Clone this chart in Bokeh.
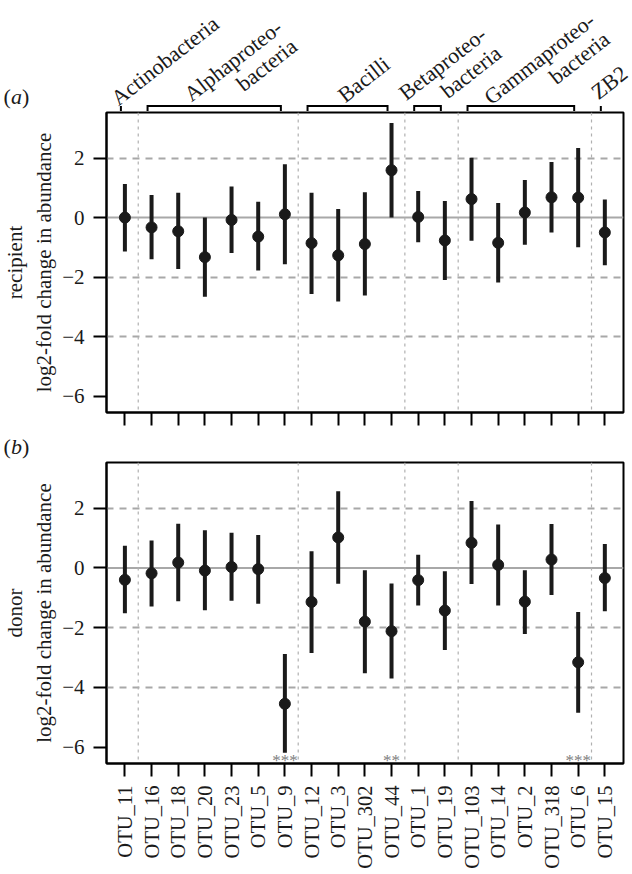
import math
import numpy as np
from bokeh.plotting import figure
from bokeh.models import Range1d, FixedTicker, Span, Label
from bokeh.layouts import column
from bokeh.embed import file_html
from bokeh.resources import INLINE
from bokeh.core.properties import value

# ---------------- data ----------------
otus = ["OTU_11", "OTU_16", "OTU_18", "OTU_20", "OTU_23", "OTU_5", "OTU_9",
        "OTU_12", "OTU_3", "OTU_302", "OTU_44", "OTU_1", "OTU_19", "OTU_103",
        "OTU_14", "OTU_2", "OTU_318", "OTU_6", "OTU_15"]
groups = ["Actinobacteria", "Alphaproteo-\nbacteria", "Bacilli",
          "Betaproteo-\nbacteria", "Gammaproteo-\nbacteria", "ZB2"]
group_sizes = [1, 6, 4, 2, 5, 1]

recipient_mean = [0.00, -0.33, -0.46, -1.33, -0.08, -0.64, 0.11, -0.86, -1.27, -0.89,
                  1.59, 0.02, -0.77, 0.62, -0.85, 0.17, 0.68, 0.67, -0.50]
recipient_lo = [-1.14, -1.40, -1.73, -2.66, -1.19, -1.78, -1.57, -2.57, -2.82, -2.62,
                0.00, -0.83, -2.10, -0.78, -2.18, -0.91, -0.50, -1.00, -1.60]
recipient_hi = [1.13, 0.76, 0.83, 0.00, 1.04, 0.53, 1.79, 0.83, 0.29, 0.85,
                3.18, 0.89, 0.56, 2.01, 0.49, 1.26, 1.87, 2.34, 0.61]

donor_mean = [-0.40, -0.18, 0.18, -0.09, 0.03, -0.04, -4.55, -1.14, 1.02, -1.80,
              -2.12, -0.41, -1.43, 0.84, 0.10, -1.13, 0.28, -3.16, -0.34]
donor_lo = [-1.52, -1.29, -1.12, -1.42, -1.10, -1.20, -6.19, -2.85, -0.53, -3.53,
            -3.70, -1.26, -2.75, -0.54, -1.26, -2.21, -0.91, -4.85, -1.45]
donor_hi = [0.74, 0.92, 1.48, 1.26, 1.18, 1.10, -2.88, 0.56, 2.57, -0.08,
            -0.52, 0.44, -0.11, 2.24, 1.45, -0.08, 1.47, -1.48, 0.80]
donor_sig = ["", "", "", "", "", "", "***", "", "", "", "**", "", "", "", "", "", "", "***", ""]

y_ticks = [-6, -4, -2, 0, 2]
y_tick_labels = [str(t).replace("-", "\u2212") for t in y_ticks]
grid_levels = [-4, -2, 2]
y_title = "log2-fold change in abundance"

# ---------------- layout / style ----------------
FONT = "Liberation Serif"
INK = "#1a1a1a"
GRID = "#a8a8a8"

n = len(otus)
idx = list(range(n))
X0, X1 = -0.69, n - 1 + 0.70
Y0, Y1 = -6.55, 3.53
W = 632
BL, BR = 102, 13
FW = W - BL - BR
ppu_x = FW / (X1 - X0)


def xdata(canvas_x):
    return X0 + (canvas_x - BL) / ppu_x


xr = Range1d(X0, X1)

sizes = np.array(group_sizes)
starts = np.concatenate([[0], np.cumsum(sizes)[:-1]])
ends = starts + sizes - 1
centers = (starts + ends) / 2.0
bounds = np.cumsum(sizes)[:-1] - 0.5


def strip(height):
    """full-width figure whose frame covers the whole canvas (1 y-unit = 1 px)"""
    p = figure(width=W, height=height, x_range=Range1d(xdata(0), xdata(W)),
               y_range=Range1d(0, height), x_axis_type=None, y_axis_type=None,
               min_border_left=0, min_border_right=0, min_border_top=0, min_border_bottom=0,
               toolbar_location=None, output_backend="svg", outline_line_color=None)
    try:
        p.frame_align = False
    except Exception:
        pass
    return p


def tag(p, letter, y):
    for dx, txt, style in ((3, "(", "normal"), (10.5, letter, "italic"), (21.5, ")", "normal")):
        p.add_layout(Label(x=xdata(dx), y=y, text=txt, text_font=FONT, text_font_style=style,
                           text_font_size="22px", text_color=INK, text_baseline="bottom"))


# ---------------- header (group brackets + labels) ----------------
HH = 111
hdr = strip(HH)
bx, by = [], []
for s, e in zip(starts, ends):
    if s == e:
        bx.append([float(s), float(s)]); by.append([-1, 5.5])
    else:
        bx.append([float(s), float(s), float(e), float(e)]); by.append([-1, 5.5, 5.5, -1])
hdr.multi_line(bx, by, line_color="black", line_width=2, line_join="miter")

lab_dx = [-7, 65.0, -7, 56.0, 71.0, -7]   # px from group centre (line-1 anchor)
lab_py = [100, 24, 97, 31, 17, 94]        # page-y of line-1 anchor
ANG = math.radians(38)
LH = 24
for g, c, dx, py in zip(groups, centers, lab_dx, lab_py):
    lines = g.split("\n")
    align = "left" if len(lines) == 1 else "right"
    for k, line in enumerate(lines):
        px = dx + k * LH * math.sin(ANG)
        pyk = py + k * LH * math.cos(ANG)
        hdr.add_layout(Label(x=float(c) + px / ppu_x, y=HH - pyk, text=line, angle=ANG,
                             text_align=align, text_baseline="alphabetic",
                             text_font=FONT, text_font_size="22px", text_color=INK))
tag(hdr, "a", 3)


# ---------------- panels ----------------
def make_panel(btop, bbot, mean, lo, hi, title, show_xlabels, sig=None):
    p = figure(frame_width=FW, frame_height=300 if not show_xlabels else 301,
               x_range=xr, y_range=Range1d(Y0, Y1),
               min_border_left=BL, min_border_right=BR, min_border_top=btop, min_border_bottom=bbot,
               toolbar_location=None, output_backend="svg")
    p.outline_line_color = "black"
    p.outline_line_width = 2
    p.outline_line_alpha = 1
    p.xgrid.visible = False
    p.ygrid.ticker = FixedTicker(ticks=grid_levels)
    p.ygrid.grid_line_color = GRID
    p.ygrid.grid_line_width = 2
    p.ygrid.grid_line_dash = "7 6"
    p.add_layout(Span(location=0, dimension="width", line_color=GRID, line_width=2, level="underlay"))
    for b in bounds:
        p.add_layout(Span(location=float(b), dimension="height", line_color="#b0b0b0",
                          line_width=1.2, line_dash="3 4", level="underlay"))
    p.segment(idx, lo, idx, hi, line_width=4, line_color=INK)
    p.scatter(idx, mean, size=11, color=INK)
    if sig is not None:
        p.text(idx, [Y0 + 0.1] * n, text=sig, text_font=value(FONT), text_font_size="17px",
               text_color="#808080", text_align="center", text_baseline="alphabetic")

    for ax in (p.xaxis[0], p.yaxis[0]):
        ax.axis_line_width = 2
        ax.axis_line_color = "black"
        ax.major_tick_line_width = 2
        ax.major_tick_line_color = "black"
        ax.major_tick_out = 13
        ax.major_tick_in = 0
        ax.minor_tick_out = 0
        ax.minor_tick_in = 0
        ax.major_label_text_font = FONT
        ax.major_label_text_color = INK
        ax.major_label_standoff = 9
    p.yaxis.major_label_text_font_size = "21px"
    p.yaxis.ticker = FixedTicker(ticks=y_ticks)
    p.yaxis.major_label_overrides = {t: s for t, s in zip(y_ticks, y_tick_labels)}
    p.yaxis.axis_label = title + "\n" + y_title
    p.yaxis.axis_label_text_font = FONT
    p.yaxis.axis_label_text_font_size = "21px"
    p.yaxis.axis_label_text_font_style = "normal"
    p.yaxis.axis_label_text_color = INK
    p.yaxis.axis_label_standoff = 3
    p.xaxis.ticker = FixedTicker(ticks=idx)
    p.xaxis.major_label_text_font_size = "20.5px"
    if show_xlabels:
        p.xaxis.major_label_overrides = {i: o for i, o in enumerate(otus)}
        p.xaxis.major_label_orientation = math.pi / 2
    else:
        p.xaxis.major_label_text_color = None
    return p


pa = make_panel(1, 14, recipient_mean, recipient_lo, recipient_hi, "recipient", False)
gap = strip(35)
tag(gap, "b", 3)
pb = make_panel(1, 109, donor_mean, donor_lo, donor_hi, "donor", True, donor_sig)

layout = column(hdr, pa, gap, pb)
open("out.html", "w").write(file_html(layout, INLINE))
